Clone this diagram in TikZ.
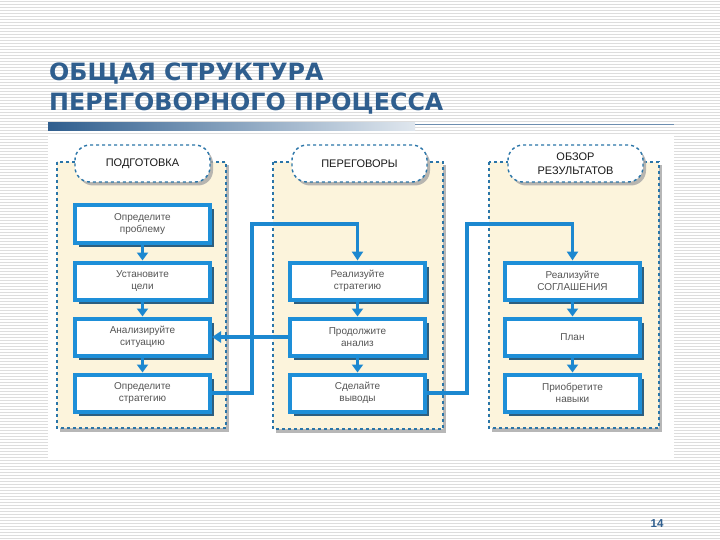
\documentclass[tikz,border=0pt]{standalone}
\usepackage{fontspec}
\setmainfont{Liberation Sans}
\newfontfamily\titlefont{DejaVu Sans}
\usetikzlibrary{shadows,arrows.meta,calc}
\definecolor{titleblue}{HTML}{2F5E8E}
\definecolor{stripegray}{HTML}{DDDDDD}
\definecolor{cream}{HTML}{FCF4DC}
\definecolor{dashblue}{HTML}{2A75A8}
\definecolor{boxblue}{HTML}{1E8FD8}
\definecolor{boxshadow}{HTML}{2C5F80}
\definecolor{arrblue}{HTML}{1C88D0}
\definecolor{txtgray}{HTML}{555555}
\tikzset{
  stripe/.style={draw=stripegray, line width=1pt},
  panel/.style={draw=dashblue, dashed, line width=1.4pt, fill=cream,
    drop shadow={shadow xshift=3pt, shadow yshift=-3.5pt, fill=gray!70, opacity=0.8}},
  header/.style={draw=dashblue, dashed, line width=1.4pt, fill=white, rounded corners=15pt,
    minimum width=135pt, minimum height=37pt, align=center, text=black!90,
    font=\fontsize{11}{13.5}\selectfont,
    drop shadow={shadow xshift=3pt, shadow yshift=-3.5pt, fill=gray!70, opacity=0.8}},
  stepbox/.style={draw=boxblue, line width=4pt, fill=white, minimum width=135pt,
    minimum height=37pt, align=center, text=txtgray,
    font=\fontsize{10}{12.5}\selectfont,
    drop shadow={shadow xshift=3.5pt, shadow yshift=-4pt, fill=boxshadow, opacity=1}},
  arr/.style={draw=arrblue, line width=3.2pt, -{Triangle[width=11pt,length=8pt]}},
  conn/.style={draw=arrblue, line width=3.6pt, -{Triangle[width=11pt,length=9pt]}}
}
\begin{document}
\begin{tikzpicture}[x=1pt,y=-1pt]
\useasboundingbox (0,0) rectangle (720,540);
% striped background
\fill[white] (0,0) rectangle (720,540);
\foreach \i in {0,...,179} \draw[stripe] (0,\i*3+1.5) -- (720,\i*3+1.5);
% title
\node[anchor=north west, inner sep=0pt, align=left, text=titleblue,
  font=\titlefont\bfseries\fontsize{23.8}{30}\selectfont] (title) at (49,63)
  {ОБЩАЯ СТРУКТУРА\\ПЕРЕГОВОРНОГО ПРОЦЕССА};
% bar
\shade[left color=titleblue, right color=titleblue!15] (48,123) rectangle (415,131);
\draw[titleblue!70, line width=0.9pt] (415,124.5) -- (674,124.5);
% diagram area
\fill[white] (48,135) rectangle (674,459);
% panels
\path[panel] (57,162) rectangle (226,428);
\path[panel] (273,162) rectangle (443,429);
\path[panel] (489,162) rectangle (659,428);
% headers
\node[header] (h1) at (142.5,163.5) {ПОДГОТОВКА};
\node[header] (h2) at (359.5,163.5) {ПЕРЕГОВОРЫ};
\node[header] (h3) at (575.5,163.5) {ОБЗОР\\РЕЗУЛЬТАТОВ};
% boxes
\node[stepbox] (b11) at (142.5,224) {Определите\\проблему};
\node[stepbox] (b12) at (142.5,281) {Установите\\цели};
\node[stepbox] (b13) at (142.5,337) {Анализируйте\\ситуацию};
\node[stepbox] (b14) at (142.5,393) {Определите\\стратегию};
\node[stepbox] (b21) at (357.5,281) {Реализуйте\\стратегию};
\node[stepbox] (b22) at (357.5,337) {Продолжите\\анализ};
\node[stepbox] (b23) at (357.5,393) {Сделайте\\выводы};
\node[stepbox] (b31) at (572.5,281) {Реализуйте\\СОГЛАШЕНИЯ};
\node[stepbox] (b32) at (572.5,337) {План};
\node[stepbox] (b33) at (572.5,393) {Приобретите\\навыки};
% vertical arrows
\draw[arr] (b11) -- (b12);
\draw[arr] (b12) -- (b13);
\draw[arr] (b13) -- (b14);
\draw[arr] (b21) -- (b22);
\draw[arr] (b22) -- (b23);
\draw[arr] (b31) -- (b32);
\draw[arr] (b32) -- (b33);
% connectors
\coordinate (j1) at (252,224);
\coordinate (j2) at (467,224);
\draw[conn] (b14.east) -| (j1) -| (b21.north);
\draw[conn] (b22.west) -- (b13.east);
\draw[conn] (b23.east) -| (j2) -| (b31.north);
% page number
\node[text=titleblue, font=\bfseries\fontsize{11.5}{13}\selectfont] (pg) at (657,524) {14};
\end{tikzpicture}
\end{document}
